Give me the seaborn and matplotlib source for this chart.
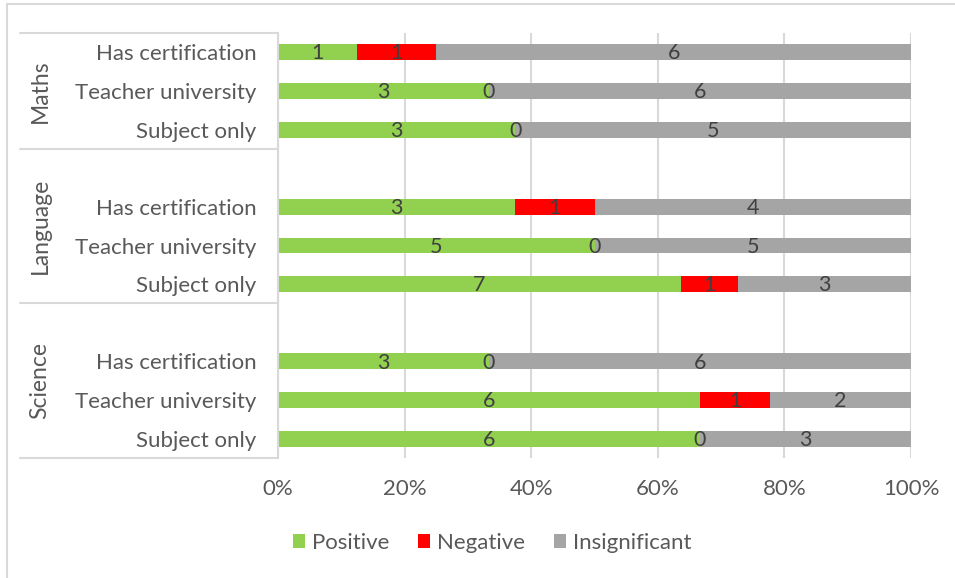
import matplotlib
matplotlib.use("Agg")
import matplotlib.pyplot as plt
from matplotlib.lines import Line2D
from matplotlib.patches import Patch
import seaborn as sns
import pandas as pd
import numpy as np

# ---- data ----
groups = ["Maths", "Language", "Science"]
subcats = ["Has certification", "Teacher university", "Subject only"]
positive = [1, 3, 3, 3, 5, 7, 3, 6, 6]
negative = [1, 0, 0, 1, 0, 1, 0, 1, 0]
insignificant = [6, 6, 5, 4, 5, 3, 6, 2, 3]
series_names = ["Positive", "Negative", "Insignificant"]
series_colors = ["#92D050", "#FF0000", "#A5A5A5"]
x_ticks = [0, 20, 40, 60, 80, 100]

sns.set_theme(style="white")
plt.rcParams["font.family"] = ["Lato", "DejaVu Sans"]

# slot positions: one blank slot before Language and Science groups
slots = []
s = 0
for gi, g in enumerate(groups):
    if gi > 0:
        s += 1
    for sc in subcats:
        slots.append(s)
        s += 1
n_slots = s

pos = np.array(positive, float)
neg = np.array(negative, float)
ins = np.array(insignificant, float)
tot = pos + neg + ins
p_pos = pos / tot * 100
p_neg = neg / tot * 100
p_ins = ins / tot * 100

df = pd.DataFrame({
    "slot": slots,
    "group": np.repeat(groups, len(subcats)),
    "sub": subcats * len(groups),
    "c1": p_pos,
    "c2": p_pos + p_neg,
    "c3": p_pos + p_neg + p_ins,
})

fig = plt.figure(figsize=(9.55, 5.78), dpi=100)
L, R, T, B = 278, 911, 33, 458
ax = fig.add_axes([L / 955, 1 - B / 578, (R - L) / 955, (B - T) / 578])

for col, color in zip(["c3", "c2", "c1"], series_colors[::-1]):
    sns.barplot(data=df, x=col, y="slot", orient="h", native_scale=True,
                color=color, width=0.41, ax=ax, saturation=1, errorbar=None,
                linewidth=0)

ax.set_xlim(0, 100)
ax.set_ylim(n_slots - 0.5, -0.5)
ax.set_xticks(x_ticks)
ax.set_xticklabels([f"{t}%" for t in x_ticks])
ax.set_yticks(df["slot"])
ax.set_yticklabels(df["sub"])
ax.set_xlabel("")
ax.set_ylabel("")
ax.tick_params(axis="x", length=0, pad=15, labelsize=16, labelcolor="#595959")
ax.tick_params(axis="y", length=0, pad=15.5, labelsize=16, labelcolor="#595959")
for sp in ["top", "right", "bottom"]:
    ax.spines[sp].set_visible(False)
ax.spines["left"].set_color("#D9D9D9")
ax.spines["left"].set_linewidth(1.5)
ax.xaxis.grid(True, color="#D9D9D9", linewidth=1.5)
ax.set_axisbelow(True)

# segment labels
for i in range(len(df)):
    y = df["slot"].iloc[i]
    starts = [0, p_pos[i], p_pos[i] + p_neg[i]]
    widths = [p_pos[i], p_neg[i], p_ins[i]]
    vals = [positive[i], negative[i], insignificant[i]]
    for st, w, v in zip(starts, widths, vals):
        ax.text(st + w / 2, y + 0.03, str(v), ha="center", va="center",
                fontsize=15.5, color="#404040")

# group brackets and labels
trans = ax.get_yaxis_transform()
x_left = (20 - L) / (R - L)
gstarts = [slots[gi * len(subcats)] for gi in range(len(groups))]
bounds = [-0.5] + [g - 1.5 for g in gstarts[1:]] + [n_slots - 0.5]
for b in bounds:
    ax.add_line(Line2D([x_left, 0], [b, b], transform=trans, color="#D9D9D9",
                       linewidth=1.5, clip_on=False))
x_glabel = (40 - L) / (R - L)
for gi, g in enumerate(groups):
    ymid = (bounds[gi] + bounds[gi + 1]) / 2
    ax.text(x_glabel, ymid, g, transform=trans, rotation=90, ha="center",
            va="center", fontsize=16.5, color="#595959")

# legend
handles = [Patch(facecolor=c, edgecolor="none") for c in series_colors]
fig.legend(handles, series_names, loc="center", bbox_to_anchor=(492 / 955, 1 - 543 / 578),
           ncol=3, frameon=False, fontsize=16, labelcolor="#595959",
           handlelength=0.55, handleheight=0.55, handletextpad=0.3, columnspacing=1.3)

# outer border (left and top)
fig.add_artist(Line2D([7 / 955, 7 / 955], [0, 1 - 4 / 578], transform=fig.transFigure,
                      color="#D9D9D9", linewidth=1.5))
fig.add_artist(Line2D([7 / 955, 1], [1 - 4 / 578, 1 - 4 / 578], transform=fig.transFigure,
                      color="#D9D9D9", linewidth=1.5))

fig.savefig("out.png", dpi=100)
